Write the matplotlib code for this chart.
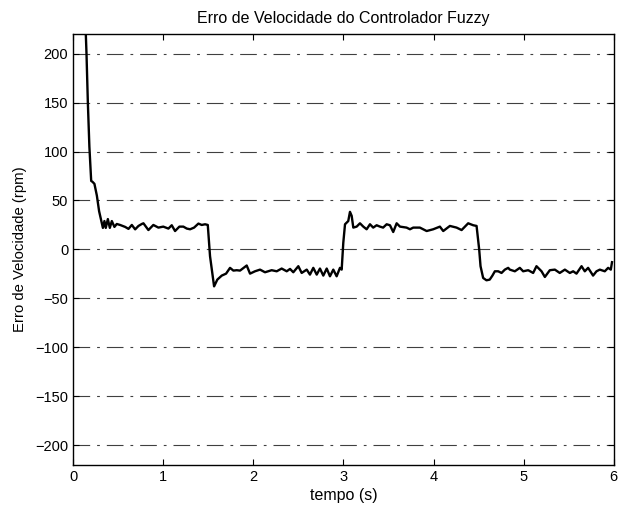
import numpy as np
import matplotlib
matplotlib.use("Agg")
import matplotlib.pyplot as plt

plt.rcParams['font.family'] = ['Liberation Sans', 'DejaVu Sans']
plt.rcParams['lines.scale_dashes'] = False

# tempo (s) e erro de velocidade (rpm)
tempo = [0.10, 0.14, 0.148, 0.163, 0.18, 0.20, 0.215, 0.236, 0.263, 0.288, 0.33,
         0.347, 0.362, 0.385, 0.407, 0.429, 0.458, 0.484, 0.521, 0.577, 0.614,
         0.651, 0.688, 0.725, 0.762, 0.78, 0.835, 0.89, 0.946, 1.0, 1.057,
         1.094, 1.131, 1.179, 1.223, 1.261, 1.298, 1.342, 1.39, 1.427, 1.464,
         1.494, 1.519, 1.564, 1.60, 1.649, 1.697, 1.741, 1.778, 1.815, 1.852,
         1.926, 1.963, 2.018, 2.074, 2.129, 2.203, 2.259, 2.314, 2.37, 2.407,
         2.443, 2.499, 2.536, 2.592, 2.628, 2.665, 2.703, 2.739, 2.776, 2.814,
         2.85, 2.887, 2.924, 2.961, 2.98, 2.998, 3.017, 3.053, 3.072, 3.091,
         3.109, 3.146, 3.183, 3.22, 3.257, 3.294, 3.33, 3.368, 3.405, 3.44,
         3.479, 3.516, 3.552, 3.59, 3.627, 3.70, 3.738, 3.774, 3.848, 3.923,
         3.996, 4.07, 4.107, 4.181, 4.255, 4.311, 4.384, 4.44, 4.477, 4.506,
         4.521, 4.55, 4.587, 4.623, 4.653, 4.68, 4.717, 4.754, 4.791, 4.828,
         4.846, 4.902, 4.957, 4.994, 5.05, 5.105, 5.142, 5.198, 5.235, 5.29,
         5.346, 5.40, 5.457, 5.512, 5.549, 5.586, 5.642, 5.678, 5.715, 5.77,
         5.808, 5.845, 5.90, 5.937, 5.967, 5.98]
erro = [400, 221, 200, 150, 105, 70, 69, 67, 55, 39, 22,
        29, 22, 31, 22, 29, 23, 26, 25, 23, 21,
        25, 20.5, 24, 26, 26.7, 19.8, 25, 22.3, 23.3, 21.3,
        24.7, 18.8, 23.3, 23.3, 21.3, 20.6, 22.3, 26.4, 25, 25.7,
        25, -6.9, -37.7, -30.8, -26.7, -24.7, -18.8, -21.6, -21.2, -21.6,
        -16.4, -24.7, -22.3, -20.6, -23.3, -21.2, -22.3, -19.5, -22.3, -19.9,
        -23.3, -17.1, -24, -20.6, -25.7, -18.8, -25.7, -19.5, -26.7, -19.5,
        -27.4, -20.6, -27.4, -18.8, -20.6, 6.9, 25.7, 29, 38.4, 34.3,
        22.3, 23.3, 26.7, 23.3, 20.6, 25.7, 22.3, 24.7, 23.3, 22.3,
        25.7, 24.7, 17.8, 26.7, 23.3, 22.3, 20.6, 22.3, 22.3, 18.8,
        20.6, 23.3, 18.8, 24, 22.3, 19.8, 26.7, 24.7, 24, 0,
        -17.1, -29.1, -31.5, -30.8, -26.7, -22.3, -22.3, -24, -20.6, -18.8,
        -20.6, -22.3, -18.8, -22.3, -21.2, -24, -17.1, -22.3, -28.1, -21.2,
        -20.6, -24, -20.6, -24, -22.3, -24.7, -17.1, -22.3, -18.8, -26.7,
        -22.3, -20.6, -22.3, -18.8, -20.6, -13]

yticks = [-200, -150, -100, -50, 0, 50, 100, 150, 200]
xticks = [0, 1, 2, 3, 4, 5, 6]

fig = plt.figure(figsize=(6.2, 5.07), dpi=100)
ax = fig.add_axes([0.118, 0.083, 0.872, 0.85])

for yv in yticks:
    ax.axhline(yv, color='0.25', lw=0.8, linestyle=(0, (12, 5, 2, 5)), zorder=1)

ax.plot(tempo, erro, color='black', lw=1.7, zorder=3)

ax.set_xlim(0, 6)
ax.set_ylim(-220, 220)
ax.set_xticks(xticks)
ax.set_yticks(yticks)
ax.tick_params(direction='in', top=True, right=True, length=4, labelsize=10.5)
for s in ax.spines.values():
    s.set_linewidth(1.0)

ax.set_title('Erro de Velocidade do Controlador Fuzzy', fontsize=11.5, pad=8)
ax.set_xlabel('tempo (s)', fontsize=11.5, labelpad=3)
ax.set_ylabel('Erro de Velocidade (rpm)', fontsize=10.7, labelpad=6)

fig.savefig('out.png', dpi=100)
